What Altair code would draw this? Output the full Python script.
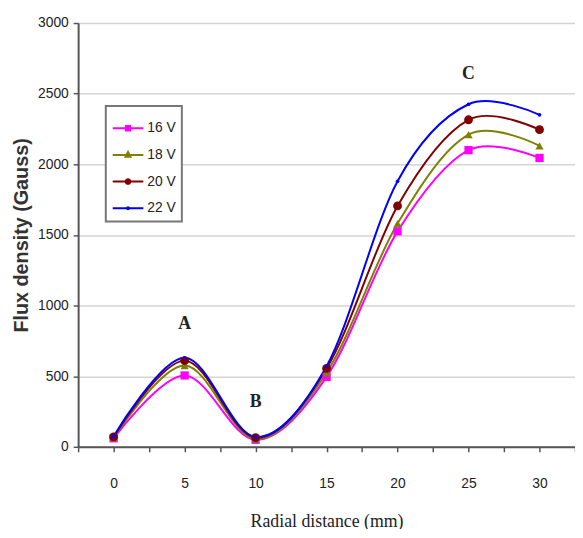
import altair as alt
import pandas as pd

radial = [0, 5, 10, 15, 20, 25, 30]
series_names = ["16 V", "18 V", "20 V", "22 V"]
v16 = [60, 505, 50, 495, 1525, 2100, 2045]
v18 = [65, 575, 55, 525, 1580, 2210, 2130]
v20 = [70, 610, 65, 555, 1705, 2315, 2245]
v22 = [75, 630, 70, 570, 1880, 2425, 2350]
colors = ["#FF00FF", "#808000", "#800000", "#0000FF"]
shapes = ["square", "triangle-up", "circle", "circle"]
sizes = [70, 70, 80, 14]
legend_shapes = [
    "M-1,0H1M-0.14,-0.15H0.14V0.15H-0.14Z",
    "M-1,0H1M0,-0.2L0.16,0.12H-0.16Z",
    "M-1,0H1M0.15,0A0.15,0.15 0 1,1 -0.15,0A0.15,0.15 0 1,1 0.15,0Z",
    "M-1,0H1M0.06,0A0.06,0.06 0 1,1 -0.06,0A0.06,0.06 0 1,1 0.06,0Z",
]

ann_text = ["A", "B", "C"]
ann_x = [5, 10, 25]
ann_y = [870, 315, 2640]

all_vals = [v16, v18, v20, v22]
rows = []
for name, vals in zip(series_names, all_vals):
    for x, y in zip(radial, vals):
        rows.append({"x": x, "y": y, "series": name})
df = pd.DataFrame(rows)
ann = pd.DataFrame({"t": ann_text, "x": ann_x, "y": ann_y})

xscale = alt.Scale(domain=[-2.5, 32.5], nice=False, zero=False)
yscale = alt.Scale(domain=[0, 3000], nice=False)
# same mapping, listed in reverse so the (hidden) line colour scale is not
# merged with the visible legend's scales
line_cscale = alt.Scale(domain=series_names[::-1], range=colors[::-1])
cscale = alt.Scale(domain=series_names, range=colors)


def xaxis():
    return alt.Axis(
        values=[-2.5 + 2.5 * i for i in range(15)],
        labelExpr="datum.value % 5 == 0 ? datum.label : ''",
        labelOverlap=False,
        grid=False, domainColor="#555555", domainWidth=2,
        tickColor="#555555", tickWidth=1.5, tickSize=5,
        labelPadding=25, labelFont="Liberation Sans", labelFontSize=14,
        labelColor="#222222",
        title="Radial distance (mm)", titleFont="Liberation Serif",
        titleFontSize=18, titleFontWeight="normal", titleColor="#222222",
        titlePadding=23,
    )


def yaxis():
    return alt.Axis(
        values=[0, 500, 1000, 1500, 2000, 2500, 3000],
        format="d",
        grid=True, gridColor="#d4d4d4", gridWidth=1.5,
        domainColor="#555555", domainWidth=2,
        tickColor="#555555", tickWidth=1.5, tickSize=5,
        labelPadding=5, labelFont="Liberation Sans", labelFontSize=14,
        labelColor="#222222",
        title="Flux density (Gauss)", titleFont="Liberation Sans",
        titleFontSize=20, titleFontWeight="bold", titleColor="#333333",
        titlePadding=6,
    )


def X():
    return alt.X("x:Q", scale=xscale, axis=xaxis())


def Y():
    return alt.Y("y:Q", scale=yscale, axis=yaxis())


lines = alt.Chart(df).mark_line(interpolate="cardinal", strokeWidth=2).encode(
    x=X(), y=Y(),
    color=alt.Color("series:N", scale=line_cscale, legend=None),
    detail="series:N",
)

leg_props = dict(
    title=None, orient="none", legendX=28, legendY=84,
    symbolSize=961, symbolStrokeWidth=2, symbolOpacity=1,
    labelFont="Liberation Sans",
    labelFontSize=14, labelColor="#222222", labelOffset=3,
    rowPadding=3, padding=6, strokeColor="#777777",
    fillColor="white",
)
legend_layer = alt.Chart(df).mark_point(filled=True, opacity=0).encode(
    x=X(), y=Y(),
    fill=alt.Fill("series:N", scale=cscale, legend=alt.Legend(**leg_props)),
    stroke=alt.Stroke("series:N", scale=cscale, legend=alt.Legend(**leg_props)),
    shape=alt.Shape("series:N", scale=alt.Scale(domain=series_names, range=legend_shapes),
                    legend=alt.Legend(**leg_props)),
)

point_layers = []
for vals, col, shp, sz in zip(all_vals, colors, shapes, sizes):
    sdf = pd.DataFrame({"x": radial, "y": vals})
    point_layers.append(
        alt.Chart(sdf)
        .mark_point(filled=True)
        .encode(
            x=X(), y=Y(),
            shape=alt.value(shp),
            size=alt.value(sz),
            color=alt.value(col),
            opacity=alt.value(1),
        )
    )

texts = alt.Chart(ann).mark_text(
    font="Liberation Serif", fontSize=18, fontWeight="bold", color="#222222"
).encode(x=X(), y=Y(), text="t:N")

chart = alt.layer(lines, legend_layer, *point_layers, texts).properties(
    width=503, height=429,
    autosize=alt.AutoSizeParams(type="none"),
    padding={"left": 71, "top": 12, "right": 0, "bottom": 80},
).configure_view(stroke=None).configure_legend(strokeWidth=2)

chart.save("out.html", embed_options={"renderer": "svg", "actions": False})
